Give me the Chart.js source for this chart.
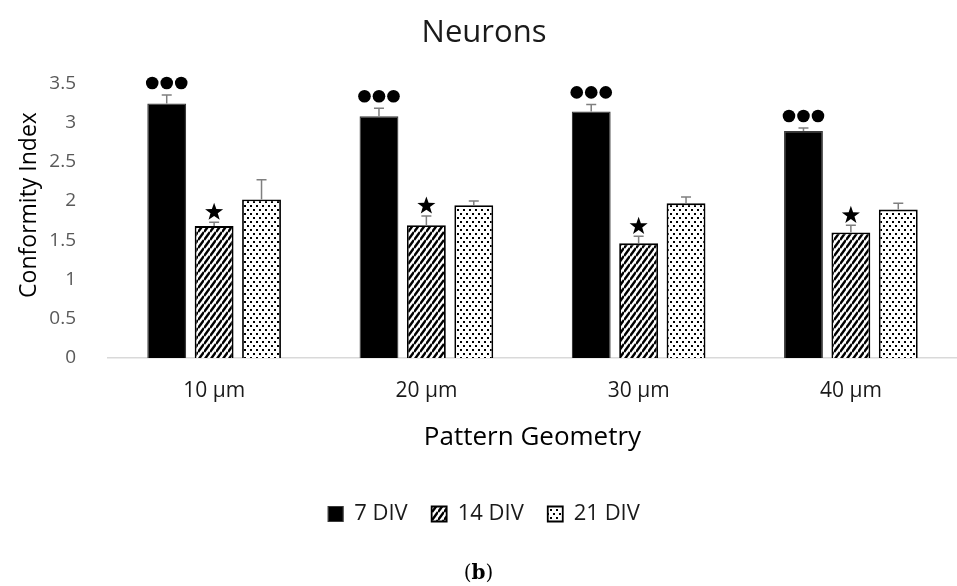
<!DOCTYPE html>
<html>
<head>
<meta charset="utf-8">
<script src="https://cdn.jsdelivr.net/npm/chart.js@4.4.1/dist/chart.umd.min.js"></script>
<style>
  html, body { margin: 0; padding: 0; background: #fff; overflow: hidden; }
  #wrap { position: relative; width: 957px; height: 586px; }
  #panel { position: absolute; left: 0; width: 957px; top: 560px; text-align: center;
           font-family: "DejaVu Serif", "Liberation Serif", serif; font-size: 20px; color: #000; }
</style>
</head>
<body>
<div id="wrap">
  <canvas id="neuronChart" width="957" height="586"></canvas>
  <div id="panel">(<b>b</b>)</div>
</div>
<script>
// data
const categories = ['10 µm', '20 µm', '30 µm', '40 µm'];
const seriesNames = ['7 DIV', '14 DIV', '21 DIV'];
const div7 = [3.24, 3.08, 3.14, 2.89];
const div14 = [1.68, 1.69, 1.46, 1.60];
const div21 = [2.02, 1.945, 1.97, 1.89];
// upper error (SEM) per bar
const err7 = [0.11, 0.10, 0.09, 0.04];
const err14 = [0.05, 0.12, 0.09, 0.09];
const err21 = [0.25, 0.055, 0.08, 0.08];
// significance marks above each series
const sigMarks = ['●●●', '★', ''];
const yTicks = [0, 0.5, 1, 1.5, 2, 2.5, 3, 3.5];
const yTitle = 'Conformity Index';

const FONT = '"Open Sans", "DejaVu Sans", sans-serif';

// fill patterns like the Excel ones
function hatchPattern() {
  const c = document.createElement('canvas');
  c.width = 6; c.height = 8;
  const g = c.getContext('2d');
  g.fillStyle = '#fff';
  g.fillRect(0, 0, 6, 8);
  g.strokeStyle = '#000';
  g.lineWidth = 2.5;
  for (let k = -1; k <= 1; k++) {
    g.beginPath();
    g.moveTo(0, 8 + 8 * k);
    g.lineTo(6, 0 + 8 * k);
    g.stroke();
  }
  return g.createPattern(c, 'repeat');
}

function dotPattern() {
  const c = document.createElement('canvas');
  c.width = 6; c.height = 8;
  const g = c.getContext('2d');
  g.fillStyle = '#fff';
  g.fillRect(0, 0, 6, 8);
  g.fillStyle = '#000';
  g.fillRect(1, 1, 2, 2);
  g.fillRect(4, 5, 2, 2);
  return g.createPattern(c, 'repeat');
}

const errors = [err7, err14, err21];

// error bars + significance symbols
const extras = {
  id: 'extras',
  afterDatasetsDraw(chart) {
    const ctx = chart.ctx;
    const y = chart.scales.y;
    chart.data.datasets.forEach((ds, di) => {
      const meta = chart.getDatasetMeta(di);
      meta.data.forEach((bar, i) => {
        const top = y.getPixelForValue(ds.data[i] + errors[di][i]);
        ctx.save();
        ctx.strokeStyle = '#7f7f7f';
        ctx.lineWidth = 1.5;
        ctx.beginPath();
        ctx.moveTo(bar.x, bar.y);
        ctx.lineTo(bar.x, top);
        ctx.moveTo(bar.x - 5, top);
        ctx.lineTo(bar.x + 5, top);
        ctx.stroke();

        const mark = sigMarks[di];
        ctx.fillStyle = '#000';
        if (mark.includes('●')) {
          const n = mark.length;
          const cy = top - 12;
          for (let k = 0; k < n; k++) {
            const cx = bar.x + (k - (n - 1) / 2) * 14.5;
            ctx.beginPath();
            ctx.arc(cx, cy, 6.3, 0, Math.PI * 2);
            ctx.fill();
          }
        } else if (mark === '★') {
          const cx = bar.x, cy = top - 11;
          const R = 9.5, r = 3.8;
          ctx.beginPath();
          for (let k = 0; k < 10; k++) {
            const rad = k % 2 === 0 ? R : r;
            const a = -Math.PI / 2 + k * Math.PI / 5;
            const px = cx + rad * Math.cos(a), py = cy + 1 + rad * Math.sin(a);
            if (k === 0) ctx.moveTo(px, py); else ctx.lineTo(px, py);
          }
          ctx.closePath();
          ctx.fill();
        }
        ctx.restore();
      });
    });
  },
  // y title sits a bit above the plot centre in the original
  afterDraw(chart) {
    const ctx = chart.ctx;
    ctx.save();
    ctx.translate(29, 205);
    ctx.rotate(-Math.PI / 2);
    ctx.fillStyle = '#000';
    ctx.font = '23px ' + FONT;
    ctx.textAlign = 'center';
    ctx.textBaseline = 'middle';
    ctx.fillText(yTitle, 0, 0);
    ctx.restore();
  }
};

new Chart(document.getElementById('neuronChart'), {
  type: 'bar',
  data: {
    labels: categories,
    datasets: [
      { label: seriesNames[0], data: div7, backgroundColor: '#000', borderColor: '#3a3a3a', borderWidth: 1.2 },
      { label: seriesNames[1], data: div14, backgroundColor: hatchPattern(), borderColor: '#000', borderWidth: 1.8 },
      { label: seriesNames[2], data: div21, backgroundColor: dotPattern(), borderColor: '#000', borderWidth: 1.8 }
    ]
  },
  options: {
    responsive: false,
    animation: false,
    categoryPercentage: 0.67,
    barPercentage: 0.82,
    layout: { padding: { left: 11, right: 0, top: 0, bottom: 51 } },
    plugins: {
      title: {
        display: true,
        text: 'Neurons',
        color: '#1a1a1a',
        font: { family: FONT, size: 31, weight: 'normal' },
        padding: { top: 15, bottom: 31 }
      },
      legend: {
        position: 'bottom',
        labels: {
          boxWidth: 15,
          boxHeight: 15,
          padding: 24,
          color: '#1a1a1a',
          font: { family: FONT, size: 22 }
        }
      },
      tooltip: { enabled: false }
    },
    scales: {
      x: {
        grid: { display: false },
        border: { display: true, color: '#d9d9d9', width: 1.5 },
        ticks: { color: '#1a1a1a', padding: 12, font: { family: FONT, size: 21 } },
        title: {
          display: true,
          text: 'Pattern Geometry',
          color: '#000',
          font: { family: FONT, size: 26 },
          padding: { top: 4, bottom: 26 }
        },
        afterFit(s) { s.height = 121; }
      },
      y: {
        min: 0,
        max: 3.5,
        afterBuildTicks(s) { s.ticks = yTicks.map(v => ({ value: v })); },
        grid: { display: false },
        border: { display: false },
        ticks: {
          color: '#595959',
          padding: 24,
          font: { family: FONT, size: 19 },
          callback: v => String(v)
        },
        title: { display: false },
        afterFit(s) { s.width = 97; }
      }
    }
  },
  plugins: [extras]
});
</script>
</body>
</html>
